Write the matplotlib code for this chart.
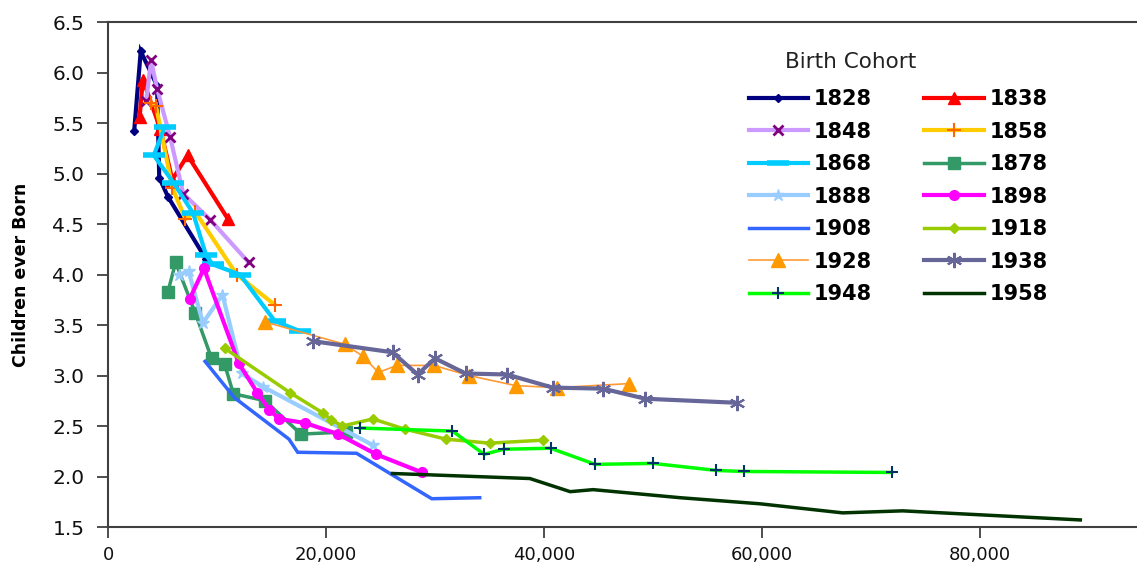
import matplotlib
matplotlib.use("Agg")
import matplotlib.pyplot as plt
from matplotlib.ticker import FuncFormatter

plt.rcParams['font.family'] = ['DejaVu Sans']

# income (x) and children ever born (y) per birth cohort
x1828 = [2400, 3000, 4500, 4700, 5500, 9000]
y1828 = [5.42, 6.21, 5.87, 4.96, 4.77, 4.15]
x1838 = [2900, 3200, 4800, 5900, 7300, 11000]
y1838 = [5.56, 5.93, 5.44, 4.94, 5.18, 4.55]
x1848 = [3500, 3950, 4500, 5700, 6900, 9400, 12900]
y1848 = [5.72, 6.12, 5.84, 5.36, 4.80, 4.54, 4.12]
x1858 = [3900, 4400, 5900, 7100, 8000, 11800, 15300]
y1858 = [5.70, 5.67, 4.86, 4.55, 4.62, 4.00, 3.70]
x1868 = [5200, 4200, 6000, 7800, 9000, 9600, 12100, 15300, 17600]
y1868 = [5.46, 5.18, 4.91, 4.61, 4.19, 4.10, 4.00, 3.54, 3.44]
x1878 = [5500, 6200, 8000, 9500, 10700, 11500, 14400, 17700, 21800]
y1878 = [3.83, 4.12, 3.62, 3.17, 3.11, 2.82, 2.75, 2.42, 2.44]
x1888 = [6500, 7400, 8700, 10500, 12300, 14200, 24300]
y1888 = [4.00, 4.03, 3.52, 3.80, 3.02, 2.89, 2.31]
x1898 = [7500, 8800, 12000, 13700, 14800, 15700, 18100, 21100, 24600, 28800]
y1898 = [3.76, 4.06, 3.12, 2.83, 2.66, 2.57, 2.53, 2.42, 2.22, 2.04]
x1908 = [8900, 11600, 16600, 17400, 22800, 29700, 34100]
y1908 = [3.14, 2.78, 2.37, 2.24, 2.23, 1.78, 1.79]
x1918 = [10700, 16700, 19700, 20500, 21500, 24300, 27200, 31000, 35000, 39900]
y1918 = [3.27, 2.83, 2.63, 2.56, 2.50, 2.57, 2.47, 2.37, 2.33, 2.36]
x1928 = [14400, 21700, 23400, 24800, 26500, 29900, 33100, 37400, 41200, 47800]
y1928 = [3.53, 3.31, 3.19, 3.03, 3.10, 3.10, 3.00, 2.90, 2.88, 2.92]
x1938 = [18800, 26100, 28400, 30000, 32800, 36600, 40800, 45400, 49300, 57700]
y1938 = [3.34, 3.23, 3.01, 3.17, 3.02, 3.01, 2.88, 2.87, 2.77, 2.73]
x1948 = [23100, 31600, 34500, 36300, 40600, 44700, 50000, 55800, 58300, 71900]
y1948 = [2.48, 2.45, 2.22, 2.27, 2.28, 2.12, 2.13, 2.06, 2.05, 2.04]
x1958 = [26100, 38700, 42400, 44500, 52500, 59800, 67400, 72900, 89200]
y1958 = [2.03, 1.98, 1.85, 1.87, 1.79, 1.73, 1.64, 1.66, 1.57]

cohorts = ["1828", "1838", "1848", "1858", "1868", "1878", "1888",
           "1898", "1908", "1918", "1928", "1938", "1948", "1958"]
xs = [x1828, x1838, x1848, x1858, x1868, x1878, x1888,
      x1898, x1908, x1918, x1928, x1938, x1948, x1958]
ys = [y1828, y1838, y1848, y1858, y1868, y1878, y1888,
      y1898, y1908, y1918, y1928, y1938, y1948, y1958]

# line color, width, marker, marker size, marker color, marker edge width
styles = {
    "1828": ("#000080", 3.0, "D", 4, "#000080", 1),
    "1838": ("#FF0000", 3.0, "^", 8, "#FF0000", 1),
    "1848": ("#CC99FF", 3.0, "x", 7, "#800080", 2),
    "1858": ("#FFCC00", 3.0, "+", 10, "#FF6600", 1.5),
    "1868": ("#00CCFF", 3.0, "_", 16, "#00CCFF", 4),
    "1878": ("#339966", 2.5, "s", 8, "#339966", 1),
    "1888": ("#99CCFF", 3.0, "*", 9, "#99CCFF", 1),
    "1898": ("#FF00FF", 3.0, "o", 7, "#FF00FF", 1),
    "1908": ("#3366FF", 2.5, "None", 0, "#3366FF", 1),
    "1918": ("#99CC00", 2.5, "D", 5, "#99CC00", 1),
    "1928": ("#FF9933", 1.2, "^", 10, "#FF9900", 1),
    "1938": ("#666699", 3.0, (6, 2, 0), 11, "#666699", 1.5),
    "1948": ("#00FF00", 2.5, "+", 9, "#003366", 1.5),
    "1958": ("#003300", 2.5, "None", 0, "#003300", 1),
}

fig = plt.figure(figsize=(11.37, 5.69), dpi=100)
ax = fig.add_axes([0.095, 0.0738, 0.905, 0.8875])

lines = {}
for name, x, y in zip(cohorts, xs, ys):
    c, lw, m, ms, mc, mew = styles[name]
    ln, = ax.plot(x, y, color=c, lw=lw, marker=m, ms=ms, mfc=mc, mec=mc,
                  mew=mew, solid_joinstyle="miter", label=name)
    lines[name] = ln

ax.set_xlim(0, 94400)
ax.set_ylim(1.5, 6.5)
ax.set_yticks([1.5, 2.0, 2.5, 3.0, 3.5, 4.0, 4.5, 5.0, 5.5, 6.0, 6.5])
ax.set_xticks([0, 20000, 40000, 60000, 80000])
ax.xaxis.set_major_formatter(FuncFormatter(lambda v, p: f"{int(v):,}"))
ax.yaxis.set_major_formatter(FuncFormatter(lambda v, p: f"{v:.1f}"))

for s in ["left", "bottom", "top"]:
    ax.spines[s].set_color("#404040")
    ax.spines[s].set_linewidth(1.5)
ax.spines["right"].set_visible(False)
ax.tick_params(axis="both", direction="out", length=8, width=1.3,
               color="#404040", labelcolor="#111111")
ax.tick_params(axis="y", labelsize=14.5, pad=9)
ax.tick_params(axis="x", labelsize=13, pad=6)

ax.set_ylabel("Children ever Born", fontsize=12.5, fontweight="bold", labelpad=16)

# legend laid out row-wise: left column 1828,1848,... right column 1838,1858,...
order = cohorts[0::2] + cohorts[1::2]
leg = fig.legend([lines[n] for n in order], order, ncol=2,
                 loc="upper left", bbox_to_anchor=(0.651, 0.858),
                 frameon=False, handlelength=2.85, handletextpad=0.3,
                 columnspacing=2.5, labelspacing=0.6, borderaxespad=0,
                 prop={"weight": "bold", "size": 15})
fig.text(0.69, 0.891, "Birth Cohort", fontsize=15.5, color="#222222", va="center")

fig.savefig("out.png", dpi=100)
